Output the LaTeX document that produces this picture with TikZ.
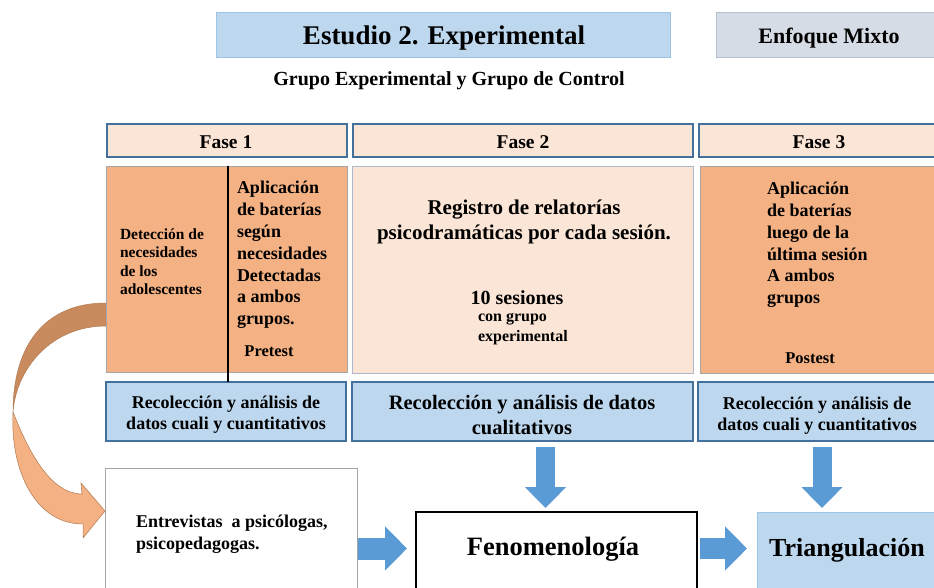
\documentclass[tikz,border=0pt]{standalone}
\usepackage{fontspec}
\setmainfont{Liberation Serif}
\usetikzlibrary{arrows.meta}
\definecolor{lblue}{HTML}{BDD7EE}
\definecolor{dblue}{HTML}{41719C}
\definecolor{peach}{HTML}{FBE5D6}
\definecolor{orng}{HTML}{F4B183}
\definecolor{gblue}{HTML}{D6DCE5}
\definecolor{gbord}{HTML}{B4C0D0}
\definecolor{arrblue}{HTML}{5B9BD5}
\definecolor{tbord}{HTML}{9DC3E6}
\definecolor{darkor}{HTML}{C98B5E}
\definecolor{orline}{HTML}{B07A52}
\definecolor{grayb}{HTML}{A6A6A6}
\definecolor{pbord}{HTML}{ADB9CA}
\begin{document}
\begin{tikzpicture}[x=1pt,y=-1pt,
  box/.style={rectangle, inner sep=0pt, outer sep=0pt, anchor=north west},
  hdr/.style={box, fill=peach, draw=dblue, line width=1.8pt},
  bluebox/.style={box, fill=lblue, draw=dblue, line width=1.8pt},
  orbox/.style={box, fill=orng, draw=grayb, line width=0.6pt},
  txt/.style={inner sep=0pt, outer sep=0pt, font=\bfseries},
  blockarrow/.style={draw=arrblue, line cap=butt},
]
\clip (0,0) rectangle (934,587);
\fill[white] (0,0) rectangle (934,587);

% curved arrow (drawn first, behind the box)
\fill[darkor, draw=orline, line width=0.5pt]
  (106,303) .. controls (45,303) and (13,345) .. (13,412)
  .. controls (16,370) and (50,326) .. (106,326) -- cycle;
\fill[orng, draw=orline, line width=0.5pt]
  (13,412) .. controls (28,450) and (50,494) .. (82,494)
  -- (81,483) -- (105,511) -- (83,538) -- (83,524)
  .. controls (35,524) and (10,470) .. (13,412) -- cycle;

% top
\node[box, fill=lblue, draw=tbord, line width=0.8pt, minimum width=454pt, minimum height=45pt] (title) at (216,12) {};
\node[txt, font=\bfseries\fontsize{27}{30}\selectfont] (titlet) at (444,38) {Estudio 2. Experimental};
\node[box, fill=gblue, draw=gbord, line width=0.8pt, minimum width=240pt, minimum height=45pt] (mixto) at (716,12) {};
\node[txt, font=\bfseries\fontsize{22}{26}\selectfont] (mixtotxt) at (829,38) {Enfoque Mixto};
\node[txt, font=\bfseries\fontsize{20}{24}\selectfont] (grupo) at (449,81) {Grupo Experimental y Grupo de Control};

% phase headers
\node[hdr, minimum width=240pt, minimum height=33pt] (h1) at (107,124) {};
\node[hdr, minimum width=340pt, minimum height=33pt] (h2) at (353,124) {};
\node[hdr, minimum width=260pt, minimum height=33pt] (h3) at (699,124) {};
\node[txt, font=\bfseries\fontsize{19.5}{23}\selectfont] (h1t) at (226,142) {Fase 1};
\node[txt, font=\bfseries\fontsize{19.5}{23}\selectfont] (h2t) at (523,142) {Fase 2};
\node[txt, font=\bfseries\fontsize{19.5}{23}\selectfont] (h3t) at (819,142) {Fase 3};

% content boxes
\node[orbox, minimum width=241pt, minimum height=206pt] (c1) at (106,166) {};
\node[box, fill=peach, draw=pbord, line width=0.8pt, minimum width=341pt, minimum height=207pt] (c2) at (352,166) {};
\node[orbox, minimum width=260pt, minimum height=207pt] (c3) at (700,166) {};

% blue boxes
\node[bluebox, minimum width=240pt, minimum height=59pt] (b1) at (106,382) {};
\node[bluebox, minimum width=341pt, minimum height=59pt] (b2) at (352,382) {};
\node[bluebox, minimum width=260pt, minimum height=59pt] (b3) at (698,382) {};
\node[txt, align=center, font=\bfseries\fontsize{18}{21}\selectfont] (b1t) at (226,415) {Recolección y análisis de\\datos cuali y cuantitativos};
\node[txt, align=center, font=\bfseries\fontsize{20.5}{25}\selectfont] (b2t) at (522,415) {Recolección y análisis de datos\\cualitativos};
\node[txt, align=center, font=\bfseries\fontsize{18}{20.5}\selectfont] (b3t) at (817,415.5) {Recolección y análisis de\\datos cuali y cuantitativos};

% divider in fase 1
\coordinate (v1) at (228,166);
\coordinate (v2) at (228,382);
\draw[black, line width=1.5pt] (v1) -- (v2);

% fase 1 texts
\node[txt, anchor=west, align=left, font=\bfseries\fontsize{15.5}{18.5}\selectfont] (det) at (120,261.5)
  {Detección de\\necesidades\\de los\\adolescentes};
\node[txt, anchor=west, align=left, font=\bfseries\fontsize{18}{21.8}\selectfont] (apl1) at (237,255)
  {Aplicación\\de baterías\\según\\necesidades\\Detectadas\\a ambos\\grupos.};
\node[txt, font=\bfseries\fontsize{16.5}{20}\selectfont] (pre) at (269,351) {Pretest};

% fase 2 texts
\node[txt, align=center, font=\bfseries\fontsize{21}{25}\selectfont] (reg) at (524,222)
  {Registro de relatorías\\psicodramáticas por cada sesión.};
\node[txt, font=\bfseries\fontsize{20}{24}\selectfont] (ses) at (517,298) {10 sesiones};
\node[txt, anchor=west, align=left, font=\bfseries\fontsize{16}{19.5}\selectfont] (con) at (478,329)
  {con grupo\\experimental};

% fase 3 texts
\node[txt, anchor=west, align=left, font=\bfseries\fontsize{18}{21.8}\selectfont] (apl3) at (767,245)
  {Aplicación\\de baterías\\luego de la\\última sesión\\A ambos\\grupos};
\node[txt, font=\bfseries\fontsize{16.5}{20}\selectfont] (post) at (810,358) {Postest};

% bottom row
\node[box, fill=white, draw=grayb, line width=0.8pt, minimum width=252pt, minimum height=140pt] (ent) at (105,468) {};
\node[txt, anchor=west, align=left, font=\bfseries\fontsize{18}{22}\selectfont] (entt) at (136,534)
  {Entrevistas\ \ a psicólogas,\\psicopedagogas.};
\node[box, fill=white, draw=black, line width=2.2pt, minimum width=281pt, minimum height=100pt] (fen) at (416,512) {};
\node[txt, font=\bfseries\fontsize{26.5}{30}\selectfont] (fent) at (553,549) {Fenomenología};
\node[box, fill=lblue, draw=tbord, line width=0.8pt, minimum width=200pt, minimum height=100pt] (tri) at (757,512) {};
\node[txt, font=\bfseries\fontsize{26}{30}\selectfont] (trit) at (847,550) {Triangulación};

% block arrows
\coordinate (d1s) at (545.5,447); \coordinate (d1e) at (545.5,508);
\coordinate (d2s) at (822,447);   \coordinate (d2e) at (822,508);
\coordinate (r1s) at (358,548.5); \coordinate (r1e) at (407,548.5);
\coordinate (r2s) at (700,548.5); \coordinate (r2e) at (747,548.5);
\draw[blockarrow, line width=19pt, -{Triangle[length=21pt,width=40pt]}] (d1s) -- (d1e);
\draw[blockarrow, line width=19pt, -{Triangle[length=21pt,width=40pt]}] (d2s) -- (d2e);
\draw[blockarrow, line width=22pt, -{Triangle[length=22pt,width=43pt]}] (r1s) -- (r1e);
\draw[blockarrow, line width=21pt, -{Triangle[length=22pt,width=43pt]}] (r2s) -- (r2e);
\end{tikzpicture}
\end{document}
